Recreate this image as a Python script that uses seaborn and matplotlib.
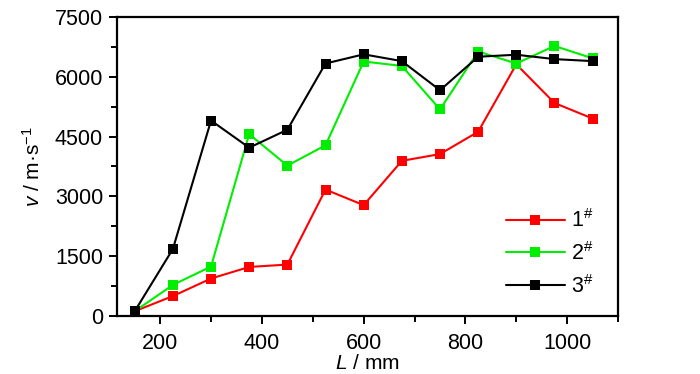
import pandas as pd
import matplotlib
matplotlib.use("Agg")
import matplotlib.pyplot as plt
import seaborn as sns
from matplotlib.ticker import MultipleLocator

# ---- dados ----
L_mm = [150, 225, 300, 375, 450, 525, 600, 675, 750, 825, 900, 975, 1050]
v_1 = [120, 500, 940, 1230, 1290, 3170, 2780, 3890, 4060, 4620, 6310, 5340, 4950]
v_2 = [120, 780, 1240, 4560, 3770, 4280, 6380, 6270, 5180, 6630, 6330, 6770, 6460]
v_3 = [120, 1680, 4900, 4220, 4670, 6330, 6560, 6390, 5660, 6500, 6550, 6440, 6390]
labels = ["1$^{\\#}$", "2$^{\\#}$", "3$^{\\#}$"]
cores = ["#ff0000", "#00ee00", "#000000"]

df = pd.concat([
    pd.DataFrame({"L": L_mm, "v": v, "amostra": lab})
    for v, lab in zip([v_1, v_2, v_3], labels)
])

sns.set_style("ticks")
plt.rcParams["font.family"] = ["Liberation Sans", "DejaVu Sans"]
plt.rcParams["mathtext.fontset"] = "custom"
plt.rcParams["mathtext.rm"] = "Liberation Sans"
plt.rcParams["mathtext.it"] = "Liberation Sans:italic"
for k in ["text.color", "axes.labelcolor", "xtick.color", "ytick.color", "axes.edgecolor"]:
    plt.rcParams[k] = "black"

fig = plt.figure(figsize=(7, 3.74), dpi=100)
ax = fig.add_axes([0.167, 0.155, 0.716, 0.80])

sns.lineplot(data=df, x="L", y="v", hue="amostra", palette=cores, marker="s",
             markersize=7.5, markeredgewidth=0, linewidth=1.5, ax=ax)

ax.set_xlim(115, 1100)
ax.set_ylim(0, 7500)
ax.xaxis.set_major_locator(MultipleLocator(200))
ax.xaxis.set_minor_locator(MultipleLocator(100))
ax.yaxis.set_major_locator(MultipleLocator(1500))
ax.yaxis.set_minor_locator(MultipleLocator(750))
ax.tick_params(which="major", length=6, width=1.4, labelsize=15.5)
ax.tick_params(axis="x", which="major", pad=6)
ax.tick_params(axis="y", which="major", pad=4)
ax.tick_params(which="minor", length=4, width=1.4)
for s in ax.spines.values():
    s.set_linewidth(1.6)
    s.set_visible(True)

ax.set_xlabel("$\\mathit{L}$ / mm", fontsize=15, labelpad=0)
ax.set_ylabel("$\\mathit{v}$ / m·s$^{-1}$", fontsize=15, labelpad=8)

ax.legend(frameon=False, fontsize=15.5, loc="upper left",
          bbox_to_anchor=(0.76, 0.385), handlelength=2.7, handletextpad=0.3,
          labelspacing=0.45, borderaxespad=0)

fig.savefig("out.png", dpi=100)
